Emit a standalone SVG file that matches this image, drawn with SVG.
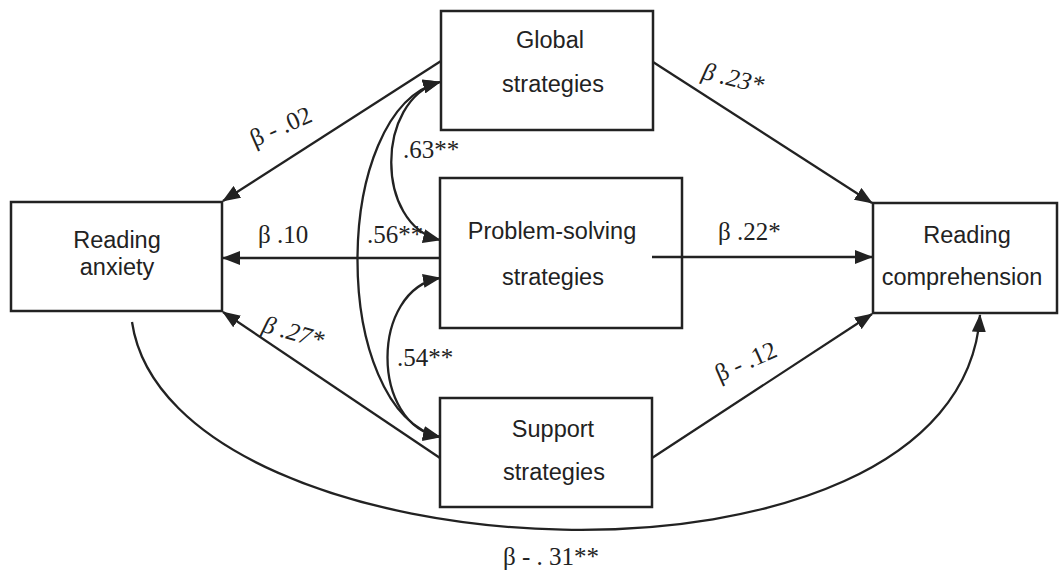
<svg xmlns="http://www.w3.org/2000/svg" width="1059" height="571" viewBox="0 0 1059 571">
<style>
.box{fill:#fff;stroke:#222;stroke-width:2.5}
.n{font-family:"Liberation Sans",Arial,sans-serif;font-size:23.5px;fill:#222;text-anchor:middle}
.l{font-family:"Liberation Serif","Times New Roman",serif;font-size:25px;fill:#222}
.i{font-style:italic}
.c{fill:none;stroke:#222;stroke-width:2.3}
</style>
<defs>
<marker id="ah" markerWidth="18" markerHeight="14" refX="17" refY="7" orient="auto-start-reverse" markerUnits="userSpaceOnUse">
<path d="M0,0 L18,7 L0,14 Z" fill="#222"/>
</marker>
</defs>
<g id="global">
<rect class="box" x="441" y="11" width="212" height="119"/>
<text class="n" x="550" y="48">Global</text>
<text class="n" x="553" y="92">strategies</text>
</g>
<g id="problem-solving">
<rect class="box" x="440" y="178" width="242" height="150"/>
<text class="n" x="552" y="239">Problem-solving</text>
<text class="n" x="553" y="285">strategies</text>
</g>
<g id="support">
<rect class="box" x="440" y="398" width="212" height="109"/>
<text class="n" x="553" y="437">Support</text>
<text class="n" x="554" y="480">strategies</text>
</g>
<g id="reading-anxiety">
<rect class="box" x="11" y="202" width="211" height="109"/>
<text class="n" x="117" y="248">Reading</text>
<text class="n" x="117" y="275">anxiety</text>
</g>
<g id="reading-comprehension">
<rect class="box" x="873" y="203" width="184" height="110"/>
<text class="n" x="967" y="243">Reading</text>
<text class="n" x="962" y="285">comprehension</text>
</g>
<g id="connectors">
<path class="c" d="M441,61 L223,201" marker-end="url(#ah)"/>
<path class="c" d="M440,258 L223,258" marker-end="url(#ah)"/>
<path class="c" d="M440,458 L223,312" marker-end="url(#ah)"/>
<path class="c" d="M653,62 L872,203" marker-end="url(#ah)"/>
<path class="c" d="M652,257 L872,257" marker-end="url(#ah)"/>
<path class="c" d="M652,458 L872,314" marker-end="url(#ah)"/>
<path class="c" d="M132,322 C170,580 960,620 980,315" marker-end="url(#ah)"/>
<path class="c" d="M440,82 C375,100 375,225 440,240" marker-start="url(#ah)" marker-end="url(#ah)"/>
<path class="c" d="M440,82 C330,110 330,410 440,437" marker-start="url(#ah)" marker-end="url(#ah)"/>
<path class="c" d="M440,278 C370,290 370,425 440,437" marker-start="url(#ah)" marker-end="url(#ah)"/>
</g>
<g id="labels">
<text class="l" text-anchor="middle" transform="translate(284,134) rotate(-24)">β - .02</text>
<text class="l" x="258" y="243">β .10</text>
<text class="l" x="367" y="243">.56**</text>
<text class="l" x="403" y="158">.63**</text>
<text class="l" x="397" y="366">.54**</text>
<text class="l i" text-anchor="middle" transform="translate(291,340) rotate(16)">β .27*</text>
<text class="l i" text-anchor="middle" transform="translate(731,86) rotate(14)">β .23*</text>
<text class="l" x="718" y="240">β .22*</text>
<text class="l" text-anchor="middle" transform="translate(749,369) rotate(-24)">β - .12</text>
<text class="l" x="503" y="565">β - . 31**</text>
</g>
</svg>
